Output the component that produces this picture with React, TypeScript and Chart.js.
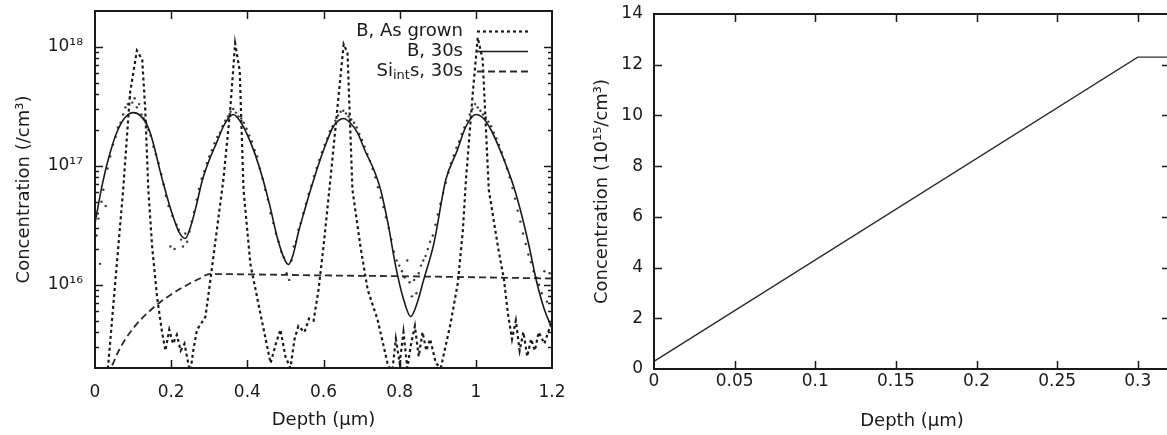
import React, { useEffect, useRef } from 'react';
import { Chart, registerables } from 'chart.js';

Chart.register(...registerables);

const FONT = "'DejaVu Sans', 'Liberation Sans', sans-serif";
const INK = '#1a1a1a';
const FS = 17;

// ---------------- Left panel (log scale) ----------------
const leftDepthTicks = [0, 0.2, 0.4, 0.6, 0.8, 1, 1.2];
const leftDepthLabels = ['0', '0.2', '0.4', '0.6', '0.8', '1', '1.2'];
const leftConcTicks = [1e16, 1e17, 1e18];
const leftConcLabels = ['10¹⁶', '10¹⁷', '10¹⁸'];
const leftConcMinorTicks = [
  3e15, 4e15, 5e15, 6e15, 7e15, 8e15, 9e15,
  2e16, 3e16, 4e16, 5e16, 6e16, 7e16, 8e16, 9e16,
  2e17, 3e17, 4e17, 5e17, 6e17, 7e17, 8e17, 9e17,
];

// B, As grown (SIMS)
const asGrownDepth = [
  0.02, 0.034, 0.074, 0.092, 0.11, 0.124, 0.132, 0.14, 0.15, 0.163, 0.176, 0.185, 0.195, 0.205, 0.215,
  0.225, 0.235, 0.25, 0.258, 0.268, 0.28, 0.29, 0.303, 0.32, 0.337, 0.355, 0.368, 0.38, 0.39, 0.408,
  0.434, 0.461, 0.475, 0.487, 0.5, 0.513, 0.524, 0.534, 0.55, 0.562, 0.574, 0.587, 0.6, 0.618, 0.636,
  0.653, 0.663, 0.676, 0.697, 0.716, 0.742, 0.768, 0.78, 0.79, 0.8, 0.81, 0.82, 0.83, 0.84, 0.85,
  0.86, 0.87, 0.88, 0.895, 0.908, 0.934, 0.953, 0.966, 0.974, 0.992, 1.005, 1.018, 1.034, 1.058, 1.074,
  1.084, 1.095, 1.105, 1.115, 1.125, 1.135, 1.145, 1.155, 1.165, 1.18, 1.2,
];
const asGrownConc = [
  1.6e15, 2.0e15, 6.3e16, 4.1e17, 9.3e17, 7.8e17, 2.95e17, 6.3e16, 2.1e16, 7.9e15, 4.0e15, 2.8e15, 4.2e15, 3.2e15, 3.8e15,
  2.8e15, 3.2e15, 1.8e15, 2.8e15, 4.2e15, 4.8e15, 5.4e15, 1.1e16, 2.9e16, 7.6e16, 2.95e17, 1.07e18, 6.3e17, 6.3e16, 1.5e16,
  5.8e15, 2.2e15, 3.2e15, 4.2e15, 2.5e15, 2.0e15, 3.5e15, 4.5e15, 4.0e15, 5.2e15, 5.0e15, 9.1e15, 2.1e16, 7.6e16, 2.95e17,
  1.05e18, 8.9e17, 6.3e16, 2.1e16, 9.1e15, 5.1e15, 2.2e15, 1.8e15, 3.5e15, 2.2e15, 4.0e15, 2.0e15, 3.2e15, 4.5e15, 2.5e15,
  4.0e15, 2.8e15, 3.5e15, 2.2e15, 2.0e15, 4.8e15, 1.05e16, 2.9e16, 7.6e16, 4.1e17, 1.2e18, 7.8e17, 6.3e16, 2.1e16, 1.1e16,
  5.8e15, 3.5e15, 5.0e15, 2.8e15, 4.0e15, 2.5e15, 3.5e15, 2.8e15, 4.0e15, 3.2e15, 5.0e15,
];

// B, 30s (simulation, solid)
const b30Depth = [
  0, 0.02, 0.04, 0.06, 0.08, 0.1, 0.12, 0.14, 0.153, 0.17, 0.184, 0.2, 0.22, 0.237, 0.25,
  0.265, 0.282, 0.3, 0.32, 0.337, 0.35, 0.363, 0.38, 0.4, 0.42, 0.44, 0.46, 0.48, 0.5, 0.508,
  0.52, 0.534, 0.55, 0.574, 0.6, 0.626, 0.653, 0.67, 0.689, 0.71, 0.732, 0.75, 0.77, 0.79, 0.81,
  0.829, 0.845, 0.863, 0.89, 0.921, 0.95, 0.974, 1.0, 1.02, 1.04, 1.06, 1.08, 1.1, 1.12, 1.14,
  1.16, 1.18, 1.2,
];
const b30Conc = [
  3.3e16, 7.2e16, 1.3e17, 2.0e17, 2.57e17, 2.8e17, 2.63e17, 2.09e17, 1.55e17, 9.3e16, 6.3e16, 4.2e16, 2.8e16, 2.45e16, 3.0e16,
  4.5e16, 7.6e16, 1.12e17, 1.58e17, 2.14e17, 2.5e17, 2.7e17, 2.4e17, 1.82e17, 1.26e17, 7.9e16, 4.5e16, 2.4e16, 1.58e16, 1.48e16,
  1.78e16, 2.75e16, 4.2e16, 7.6e16, 1.35e17, 2.14e17, 2.5e17, 2.3e17, 1.9e17, 1.32e17, 9.3e16, 6.3e16, 3.2e16, 1.41e16, 7.6e15,
  5.4e15, 6.9e15, 1.1e16, 2.24e16, 7.6e16, 1.32e17, 2.14e17, 2.7e17, 2.5e17, 2.0e17, 1.45e17, 1.0e17, 6.6e16, 3.9e16, 2.1e16,
  1.05e16, 6.2e15, 4.3e15,
];

// B, 30s (SIMS, scattered dots)
const sims30Depth = [
  0.004, 0.009, 0.013, 0.017, 0.022, 0.028, 0.033, 0.04, 0.047, 0.054, 0.06, 0.067, 0.074, 0.08, 0.086,
  0.092, 0.098, 0.104, 0.11, 0.116, 0.122, 0.128, 0.134, 0.14, 0.146, 0.153, 0.16, 0.167, 0.174, 0.18,
  0.186, 0.193, 0.198, 0.203, 0.209, 0.214, 0.22, 0.226, 0.231, 0.237, 0.242, 0.248, 0.254, 0.26, 0.267,
  0.273, 0.28, 0.287, 0.294, 0.3, 0.307, 0.314, 0.321, 0.328, 0.335, 0.342, 0.349, 0.356, 0.363, 0.37,
  0.377, 0.384, 0.391, 0.398, 0.405, 0.412, 0.419, 0.426, 0.433, 0.44, 0.447, 0.454, 0.461, 0.468, 0.475,
  0.482, 0.489, 0.496, 0.503, 0.51, 0.516, 0.522, 0.528, 0.534, 0.54, 0.547, 0.554, 0.561, 0.568, 0.575,
  0.582, 0.589, 0.596, 0.603, 0.61, 0.617, 0.624, 0.631, 0.638, 0.645, 0.652, 0.659, 0.666, 0.673, 0.68,
  0.687, 0.694, 0.701, 0.708, 0.715, 0.722, 0.729, 0.736, 0.743, 0.75, 0.757, 0.764, 0.771, 0.778, 0.785,
  0.792, 0.799, 0.806, 0.813, 0.82, 0.826, 0.832, 0.838, 0.844, 0.85, 0.856, 0.862, 0.868, 0.874, 0.88,
  0.887, 0.894, 0.9, 0.907, 0.914, 0.921, 0.928, 0.935, 0.942, 0.949, 0.956, 0.963, 0.97, 0.977, 0.984,
  0.991, 0.998, 1.005, 1.012, 1.019, 1.026, 1.033, 1.04, 1.047, 1.054, 1.061, 1.068, 1.075, 1.082, 1.089,
  1.096, 1.103, 1.11, 1.117, 1.124, 1.131, 1.138, 1.145, 1.152, 1.159, 1.166, 1.173, 1.18, 1.187, 1.194,
  1.2,
];
const sims30Conc = [
  2.6e16, 3.6e16, 1.5e16, 5.0e16, 6.3e16, 4.6e16, 9.5e16, 1.2e17, 1.5e17, 1.75e17, 2.1e17, 2.3e17, 2.7e17, 3.1e17, 3.3e17,
  3.8e17, 3.4e17, 3.7e17, 3.1e17, 3.3e17, 2.7e17, 2.5e17, 2.3e17, 2.0e17, 1.8e17, 1.45e17, 1.25e17, 1.05e17, 8.5e16, 7.0e16,
  5.6e16, 4.6e16, 2.1e16, 3.8e16, 2.0e16, 3.2e16, 2.9e16, 2.4e16, 2.1e16, 2.7e16, 2.3e16, 2.8e16, 3.4e16, 4.1e16, 5.2e16,
  6.4e16, 7.8e16, 9.0e16, 1.05e17, 1.2e17, 1.35e17, 1.55e17, 1.75e17, 1.9e17, 2.15e17, 2.4e17, 2.6e17, 2.85e17, 3.0e17, 2.8e17,
  2.6e17, 2.5e17, 2.3e17, 2.05e17, 1.8e17, 1.6e17, 1.35e17, 1.2e17, 9.5e16, 7.8e16, 6.3e16, 5.2e16, 4.0e16, 3.3e16, 2.7e16,
  2.3e16, 1.9e16, 1.7e16, 1.25e16, 1.1e16, 1.6e16, 2.1e16, 2.3e16, 2.9e16, 3.3e16, 4.0e16, 4.8e16, 5.8e16, 6.8e16, 8.2e16,
  9.6e16, 1.12e17, 1.3e17, 1.5e17, 1.7e17, 1.95e17, 2.15e17, 2.4e17, 2.65e17, 2.85e17, 2.9e17, 2.75e17, 2.6e17, 2.45e17, 2.3e17,
  2.1e17, 1.85e17, 1.65e17, 1.45e17, 1.25e17, 1.1e17, 9.4e16, 8.0e16, 6.6e16, 5.4e16, 4.5e16, 3.7e16, 3.0e16, 2.4e16, 1.9e16,
  1.6e16, 1.45e16, 1.3e16, 1.15e16, 1.6e16, 1.05e16, 8.0e15, 1.1e16, 8.5e15, 1.25e16, 1.45e16, 1.6e16, 1.75e16, 2.0e16, 2.3e16,
  2.6e16, 3.2e16, 3.9e16, 4.8e16, 5.9e16, 7.2e16, 8.8e16, 1.05e17, 1.22e17, 1.42e17, 1.6e17, 1.85e17, 2.1e17, 2.4e17, 2.7e17,
  3.0e17, 3.3e17, 3.1e17, 2.9e17, 2.7e17, 2.55e17, 2.35e17, 2.15e17, 1.9e17, 1.7e17, 1.5e17, 1.3e17, 1.12e17, 9.5e16, 8.0e16,
  6.5e16, 5.3e16, 4.2e16, 3.4e16, 2.7e16, 2.2e16, 1.8e16, 1.55e16, 1.3e16, 1.15e16, 1.0e16, 8.5e15, 1.3e16, 7.2e15, 1.25e16,
  8.0e15,
];

// Si interstitials, 30s (dashed)
const siIntDepth = [0.045, 0.06, 0.08, 0.1, 0.125, 0.15, 0.175, 0.2, 0.225, 0.25, 0.275, 0.3, 0.6, 0.9, 1.2];
const siIntConc = [2.1e15, 2.7e15, 3.5e15, 4.3e15, 5.3e15, 6.3e15, 7.3e15, 8.3e15, 9.3e15, 1.03e16, 1.13e16, 1.23e16, 1.2e16, 1.17e16, 1.13e16];

// ---------------- Right panel (linear) ----------------
const rightDepthTicks = [0, 0.05, 0.1, 0.15, 0.2, 0.25, 0.3];
const rightDepthLabels = ['0', '0.05', '0.1', '0.15', '0.2', '0.25', '0.3'];
const rightConcTicks = [0, 2, 4, 6, 8, 10, 12, 14];
const rightConcLabels = ['0', '2', '4', '6', '8', '10', '12', '14'];
const siLinDepth = [0, 0.3, 0.32];
const siLinConc = [0.3, 12.3, 12.3];

const pts = (xs: number[], ys: number[]) => xs.map((x, i) => ({ x, y: ys[i] }));

const noPad = (s: any) => {
  s.paddingTop = 0;
  s.paddingBottom = 0;
  s.paddingLeft = 0;
  s.paddingRight = 0;
};

// Frame + inward tick marks (gnuplot style)
const framePlugin = {
  id: 'frame',
  afterDatasetsDraw(chart: any, _args: any, opts: any) {
    const { ctx, chartArea } = chart;
    const { left, right, top, bottom } = chartArea;
    const xs = chart.scales.x;
    const ys = chart.scales.y;
    ctx.save();
    ctx.strokeStyle = INK;
    ctx.lineWidth = 1.5;
    const seg = (x1: number, y1: number, x2: number, y2: number) => {
      ctx.beginPath();
      ctx.moveTo(x1, y1);
      ctx.lineTo(x2, y2);
      ctx.stroke();
    };
    const L = opts.major || 8;
    const l = opts.minor || 4;
    (opts.xMajor || []).forEach((v: number) => {
      const p = Math.round(xs.getPixelForValue(v)) + 0.5;
      seg(p, bottom, p, bottom - L);
      seg(p, top, p, top + L);
    });
    (opts.yMajor || []).forEach((v: number) => {
      const p = Math.round(ys.getPixelForValue(v)) + 0.5;
      seg(left, p, left + L, p);
      seg(right, p, right - L, p);
    });
    (opts.yMinor || []).forEach((v: number) => {
      const p = Math.round(ys.getPixelForValue(v)) + 0.5;
      seg(left, p, left + l, p);
      seg(right, p, right - l, p);
    });
    ctx.lineWidth = 2;
    ctx.strokeRect(left, top, right - left, bottom - top);
    ctx.restore();
  },
};

// In-plot legend: text on the left, line sample on the right
const insetLegendPlugin = {
  id: 'insetLegend',
  afterDraw(chart: any, _args: any, opts: any) {
    if (!opts || !opts.display) return;
    const { ctx, chartArea } = chart;
    const textRight = chartArea.right - opts.textInset;
    const s0 = chartArea.right - opts.sampleStart;
    const s1 = chartArea.right - opts.sampleEnd;
    let row = 0;
    ctx.save();
    chart.data.datasets.forEach((ds: any) => {
      if (!ds.legendParts) return;
      const y = chartArea.top + opts.firstRow + row * opts.rowGap;
      row += 1;
      const parts = ds.legendParts as { t: string; sub?: boolean }[];
      const fontFor = (p: any) => `${p.sub ? opts.subSize : opts.size}px ${FONT}`;
      let total = 0;
      parts.forEach((p) => {
        ctx.font = fontFor(p);
        total += ctx.measureText(p.t).width;
      });
      let x = textRight - total;
      ctx.fillStyle = INK;
      ctx.textBaseline = 'middle';
      ctx.textAlign = 'left';
      parts.forEach((p) => {
        ctx.font = fontFor(p);
        ctx.fillText(p.t, x, p.sub ? y + 5 : y);
        x += ctx.measureText(p.t).width;
      });
      ctx.strokeStyle = ds.borderColor;
      ctx.lineWidth = ds.borderWidth;
      ctx.setLineDash(ds.borderDash || []);
      ctx.beginPath();
      ctx.moveTo(s0, y + 0.5);
      ctx.lineTo(s1, y + 0.5);
      ctx.stroke();
      ctx.setLineDash([]);
    });
    ctx.restore();
  },
};

const tickFont = { family: FONT, size: FS };
const titleFont = { family: FONT, size: 18 };

export default function App() {
  const leftRef = useRef<HTMLCanvasElement>(null);
  const rightRef = useRef<HTMLCanvasElement>(null);

  useEffect(() => {
    const left = new Chart(leftRef.current as HTMLCanvasElement, {
      type: 'line',
      data: {
        datasets: [
          {
            label: 'B, As grown',
            legendParts: [{ t: 'B, As grown' }],
            data: pts(asGrownDepth, asGrownConc),
            borderColor: INK,
            borderWidth: 2.2,
            borderDash: [3, 3],
            pointRadius: 0,
            tension: 0,
          } as any,
          {
            label: 'B, 30s',
            legendParts: [{ t: 'B, 30s' }],
            data: pts(b30Depth, b30Conc),
            borderColor: INK,
            borderWidth: 1.6,
            pointRadius: 0,
            cubicInterpolationMode: 'monotone',
          } as any,
          {
            label: 'Siᵢₙₜs, 30s',
            legendParts: [{ t: 'Si' }, { t: 'int', sub: true }, { t: 's, 30s' }],
            data: pts(siIntDepth, siIntConc),
            borderColor: '#2a2a2a',
            borderWidth: 1.8,
            borderDash: [7, 4],
            pointRadius: 0,
            cubicInterpolationMode: 'monotone',
          } as any,
          {
            label: 'B, 30s (SIMS)',
            data: pts(sims30Depth, sims30Conc),
            showLine: false,
            pointRadius: 1.2,
            pointBorderWidth: 0,
            pointBackgroundColor: '#3a3a3a',
            borderColor: '#3a3a3a',
          } as any,
        ],
      },
      options: {
        animation: false,
        responsive: false,
        devicePixelRatio: 1,
        layout: { padding: { left: 0, top: 11, right: 28, bottom: 0 } },
        plugins: {
          legend: { display: false },
          tooltip: { enabled: false },
          frame: { xMajor: [0.2, 0.4, 0.6, 0.8, 1.0], yMajor: leftConcTicks, yMinor: leftConcMinorTicks, major: 8, minor: 4 },
          insetLegend: {
            display: true, size: 18, subSize: 13, textInset: 89, sampleStart: 75, sampleEnd: 24,
            firstRow: 20, rowGap: 20,
          },
        } as any,
        scales: {
          x: {
            type: 'linear',
            min: 0,
            max: 1.2,
            grid: { display: false, drawTicks: false },
            border: { display: false },
            afterFit: (s: any) => { s.height = 67; noPad(s); },
            afterBuildTicks: (s: any) => { s.ticks = leftDepthTicks.map((v) => ({ value: v })); },
            ticks: {
              autoSkip: false, maxRotation: 0, minRotation: 0, padding: 14, color: INK, font: tickFont,
              callback: (_v: any, i: number) => leftDepthLabels[i],
            },
            title: { display: true, text: 'Depth (μm)', color: INK, font: titleFont, padding: { top: 0, bottom: 4 } },
          },
          y: {
            type: 'logarithmic',
            min: 2e15,
            max: 2e18,
            grid: { display: false, drawTicks: false },
            border: { display: false },
            afterFit: (s: any) => { s.width = 95; noPad(s); },
            afterBuildTicks: (s: any) => { s.ticks = leftConcTicks.map((v) => ({ value: v })); },
            ticks: {
              autoSkip: false, padding: 12, color: INK, font: tickFont,
              callback: (_v: any, i: number) => leftConcLabels[i],
            },
            title: { display: true, text: 'Concentration (/cm³)', color: INK, font: titleFont, padding: { top: 14, bottom: 0 } },
          },
        },
      },
      plugins: [framePlugin, insetLegendPlugin],
    } as any);

    const right = new Chart(rightRef.current as HTMLCanvasElement, {
      type: 'line',
      data: {
        datasets: [
          {
            label: 'Siint, 30s',
            data: pts(siLinDepth, siLinConc),
            borderColor: '#2a2a2a',
            borderWidth: 1.3,
            pointRadius: 0,
            tension: 0,
          },
        ],
      },
      options: {
        animation: false,
        responsive: false,
        devicePixelRatio: 1,
        layout: { padding: { left: 0, top: 14, right: 10, bottom: 0 } },
        plugins: {
          legend: { display: false },
          tooltip: { enabled: false },
          frame: { xMajor: [0.05, 0.1, 0.15, 0.2, 0.25, 0.3], yMajor: [2, 4, 6, 8, 10, 12], major: 8 },
        } as any,
        scales: {
          x: {
            type: 'linear',
            min: 0,
            max: 0.32,
            grid: { display: false, drawTicks: false },
            border: { display: false },
            afterFit: (s: any) => { s.height = 66; noPad(s); },
            afterBuildTicks: (s: any) => { s.ticks = rightDepthTicks.map((v) => ({ value: v })); },
            ticks: {
              autoSkip: false, maxRotation: 0, minRotation: 0, padding: 2, color: INK, font: tickFont,
              callback: (_v: any, i: number) => rightDepthLabels[i],
            },
            title: { display: true, text: 'Depth (μm)', color: INK, font: titleFont, padding: { top: 0, bottom: 3 } },
          },
          y: {
            type: 'linear',
            min: 0,
            max: 14,
            grid: { display: false, drawTicks: false },
            border: { display: false },
            afterFit: (s: any) => { s.width = 74; noPad(s); },
            afterBuildTicks: (s: any) => { s.ticks = rightConcTicks.map((v) => ({ value: v })); },
            ticks: {
              autoSkip: false, padding: 11, color: INK, font: tickFont,
              callback: (_v: any, i: number) => rightConcLabels[i],
            },
            title: { display: true, text: 'Concentration (10¹⁵/cm³)', color: INK, font: titleFont, padding: { top: 12, bottom: 0 } },
          },
        },
      },
      plugins: [framePlugin],
    } as any);

    return () => {
      left.destroy();
      right.destroy();
    };
  }, []);

  return (
    <div style={{ position: 'absolute', left: 0, top: 0, width: 1167, height: 435, overflow: 'hidden', background: '#fff' }}>
      <canvas ref={leftRef} width={580} height={435} style={{ position: 'absolute', left: 0, top: 0, width: 580, height: 435 }} />
      <canvas ref={rightRef} width={600} height={435} style={{ position: 'absolute', left: 580, top: 0, width: 600, height: 435 }} />
    </div>
  );
}
